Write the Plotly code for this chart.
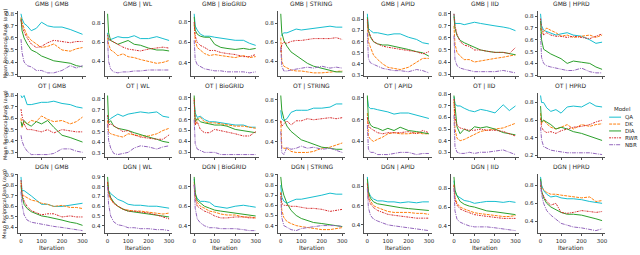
import plotly.graph_objects as go

# ---------------- data ----------------
ITER = [0, 5, 15, 30, 50, 75, 100, 130, 160, 200, 240, 270, 300]
MODELS = ["QA", "DK", "DIA", "RWR", "NBR"]
ROWS = ["GMB", "OT", "DGN"]
COLS = ["GMB", "WL", "BioGRID", "STRING", "APID", "IID", "HPRD"]

# y tick step of every panel, row by row
YSTEP_GMB = [0.1, 0.2, 0.2, 0.2, 0.1, 0.1, 0.1]
YSTEP_OT = [0.1, 0.1, 0.1, 0.2, 0.2, 0.1, 0.2]
YSTEP_DGN = [0.1, 0.1, 0.2, 0.1, 0.2, 0.2, 0.2]

GMB_GMB = dict(
    QA=[0.80, 0.76, 0.72, 0.70, 0.66, 0.68, 0.73, 0.70, 0.69, 0.69, 0.67, 0.65, 0.63],
    DK=[0.77, 0.73, 0.68, 0.62, 0.58, 0.55, 0.52, 0.53, 0.55, 0.50, 0.49, 0.51, 0.52],
    DIA=[0.76, 0.66, 0.60, 0.55, 0.50, 0.48, 0.45, 0.43, 0.41, 0.40, 0.39, 0.37, 0.36],
    RWR=[0.75, 0.70, 0.65, 0.60, 0.55, 0.52, 0.53, 0.56, 0.58, 0.57, 0.56, 0.57, 0.57],
    NBR=[0.59, 0.48, 0.40, 0.37, 0.36, 0.33, 0.33, 0.31, 0.31, 0.33, 0.37, 0.35, 0.37])
GMB_WL = dict(
    QA=[0.70, 0.62, 0.63, 0.64, 0.66, 0.65, 0.65, 0.67, 0.64, 0.64, 0.66, 0.64, 0.62],
    DK=[0.65, 0.58, 0.52, 0.50, 0.46, 0.48, 0.45, 0.44, 0.42, 0.40, 0.38, 0.39, 0.41],
    DIA=[0.90, 0.70, 0.62, 0.60, 0.58, 0.60, 0.62, 0.58, 0.57, 0.54, 0.52, 0.52, 0.51],
    RWR=[0.68, 0.64, 0.62, 0.60, 0.58, 0.55, 0.53, 0.52, 0.51, 0.53, 0.54, 0.55, 0.54],
    NBR=[0.62, 0.40, 0.32, 0.29, 0.28, 0.29, 0.29, 0.30, 0.30, 0.31, 0.31, 0.31, 0.31])
GMB_BIOGRID = dict(
    QA=[0.88, 0.76, 0.72, 0.68, 0.66, 0.66, 0.65, 0.64, 0.63, 0.62, 0.62, 0.59, 0.57],
    DK=[0.78, 0.62, 0.55, 0.52, 0.49, 0.47, 0.48, 0.47, 0.46, 0.45, 0.47, 0.45, 0.46],
    DIA=[0.85, 0.72, 0.68, 0.66, 0.65, 0.65, 0.58, 0.55, 0.54, 0.53, 0.54, 0.53, 0.54],
    RWR=[0.80, 0.66, 0.60, 0.57, 0.55, 0.52, 0.52, 0.50, 0.49, 0.48, 0.46, 0.46, 0.48],
    NBR=[0.62, 0.43, 0.38, 0.36, 0.34, 0.33, 0.32, 0.32, 0.31, 0.31, 0.31, 0.30, 0.31])
GMB_STRING = dict(
    QA=[0.67, 0.68, 0.70, 0.70, 0.72, 0.74, 0.73, 0.74, 0.75, 0.76, 0.77, 0.76, 0.76],
    DK=[0.65, 0.40, 0.35, 0.33, 0.31, 0.30, 0.30, 0.29, 0.28, 0.28, 0.29, 0.29, 0.30],
    DIA=[0.90, 0.70, 0.62, 0.56, 0.50, 0.46, 0.42, 0.38, 0.35, 0.33, 0.31, 0.29, 0.29],
    RWR=[0.50, 0.58, 0.60, 0.59, 0.61, 0.62, 0.62, 0.63, 0.64, 0.64, 0.64, 0.65, 0.63],
    NBR=[0.55, 0.35, 0.30, 0.30, 0.31, 0.32, 0.33, 0.34, 0.33, 0.35, 0.33, 0.34, 0.33])
GMB_APID = dict(
    QA=[0.85, 0.72, 0.70, 0.68, 0.68, 0.67, 0.66, 0.67, 0.67, 0.64, 0.62, 0.59, 0.58],
    DK=[0.78, 0.60, 0.55, 0.48, 0.44, 0.40, 0.37, 0.36, 0.35, 0.37, 0.42, 0.45, 0.45],
    DIA=[0.82, 0.70, 0.64, 0.60, 0.58, 0.57, 0.57, 0.56, 0.55, 0.53, 0.51, 0.50, 0.47],
    RWR=[0.80, 0.70, 0.65, 0.60, 0.58, 0.56, 0.55, 0.54, 0.53, 0.52, 0.51, 0.49, 0.51],
    NBR=[0.68, 0.45, 0.41, 0.40, 0.38, 0.36, 0.35, 0.34, 0.34, 0.33, 0.35, 0.34, 0.32])
GMB_IID = dict(
    QA=[0.80, 0.72, 0.72, 0.72, 0.71, 0.72, 0.73, 0.72, 0.71, 0.70, 0.69, 0.68, 0.66],
    DK=[0.70, 0.55, 0.48, 0.45, 0.42, 0.42, 0.40, 0.41, 0.42, 0.43, 0.44, 0.45, 0.46],
    DIA=[0.78, 0.68, 0.62, 0.58, 0.56, 0.54, 0.52, 0.50, 0.49, 0.48, 0.48, 0.47, 0.46],
    RWR=[0.80, 0.70, 0.63, 0.57, 0.54, 0.53, 0.50, 0.50, 0.49, 0.48, 0.48, 0.47, 0.52],
    NBR=[0.62, 0.42, 0.37, 0.35, 0.34, 0.33, 0.32, 0.32, 0.32, 0.32, 0.33, 0.32, 0.31])
GMB_HPRD = dict(
    QA=[0.82, 0.72, 0.68, 0.67, 0.66, 0.64, 0.65, 0.66, 0.64, 0.63, 0.60, 0.57, 0.58],
    DK=[0.70, 0.65, 0.67, 0.70, 0.68, 0.66, 0.63, 0.64, 0.62, 0.63, 0.64, 0.62, 0.64],
    DIA=[0.76, 0.60, 0.52, 0.50, 0.48, 0.46, 0.44, 0.40, 0.42, 0.41, 0.40, 0.37, 0.35],
    RWR=[0.78, 0.70, 0.64, 0.66, 0.64, 0.63, 0.63, 0.62, 0.63, 0.62, 0.61, 0.63, 0.65],
    NBR=[0.65, 0.45, 0.40, 0.38, 0.37, 0.36, 0.35, 0.34, 0.34, 0.36, 0.33, 0.32, 0.32])

OT_GMB = dict(
    QA=[0.80, 0.78, 0.80, 0.72, 0.72, 0.73, 0.74, 0.74, 0.75, 0.73, 0.72, 0.70, 0.69],
    DK=[0.60, 0.52, 0.57, 0.55, 0.58, 0.57, 0.62, 0.59, 0.57, 0.58, 0.55, 0.57, 0.61],
    DIA=[0.57, 0.53, 0.58, 0.55, 0.53, 0.57, 0.55, 0.58, 0.52, 0.45, 0.43, 0.41, 0.39],
    RWR=[0.68, 0.62, 0.55, 0.50, 0.50, 0.49, 0.48, 0.50, 0.47, 0.50, 0.49, 0.48, 0.48],
    NBR=[0.45, 0.40, 0.35, 0.31, 0.28, 0.28, 0.28, 0.28, 0.29, 0.33, 0.33, 0.31, 0.30])
OT_WL = dict(
    QA=[0.65, 0.60, 0.62, 0.64, 0.66, 0.64, 0.66, 0.67, 0.68, 0.67, 0.68, 0.64, 0.63],
    DK=[0.60, 0.50, 0.48, 0.47, 0.46, 0.45, 0.48, 0.47, 0.46, 0.46, 0.48, 0.51, 0.53],
    DIA=[0.83, 0.58, 0.60, 0.55, 0.53, 0.52, 0.51, 0.49, 0.47, 0.45, 0.43, 0.41, 0.40],
    RWR=[0.65, 0.56, 0.57, 0.55, 0.53, 0.50, 0.51, 0.47, 0.45, 0.44, 0.43, 0.43, 0.47],
    NBR=[0.57, 0.42, 0.35, 0.30, 0.29, 0.30, 0.31, 0.35, 0.37, 0.36, 0.34, 0.36, 0.37])
OT_BIOGRID = dict(
    QA=[0.76, 0.66, 0.62, 0.63, 0.60, 0.58, 0.58, 0.57, 0.56, 0.55, 0.55, 0.53, 0.53],
    DK=[0.80, 0.55, 0.60, 0.62, 0.58, 0.57, 0.57, 0.56, 0.55, 0.54, 0.54, 0.53, 0.52],
    DIA=[0.82, 0.58, 0.61, 0.58, 0.57, 0.56, 0.55, 0.55, 0.54, 0.51, 0.50, 0.49, 0.48],
    RWR=[0.78, 0.55, 0.58, 0.51, 0.48, 0.48, 0.51, 0.50, 0.49, 0.47, 0.45, 0.45, 0.49],
    NBR=[0.60, 0.38, 0.33, 0.32, 0.30, 0.30, 0.30, 0.28, 0.28, 0.28, 0.28, 0.28, 0.28])
OT_STRING = dict(
    QA=[0.70, 0.62, 0.60, 0.62, 0.68, 0.70, 0.70, 0.70, 0.72, 0.72, 0.73, 0.76, 0.76],
    DK=[0.60, 0.35, 0.34, 0.34, 0.31, 0.30, 0.30, 0.30, 0.31, 0.34, 0.35, 0.37, 0.39],
    DIA=[0.84, 0.70, 0.62, 0.55, 0.50, 0.46, 0.42, 0.40, 0.38, 0.35, 0.34, 0.33, 0.33],
    RWR=[0.60, 0.55, 0.57, 0.60, 0.56, 0.60, 0.60, 0.62, 0.61, 0.62, 0.63, 0.62, 0.63],
    NBR=[0.50, 0.30, 0.28, 0.35, 0.33, 0.34, 0.36, 0.34, 0.35, 0.33, 0.34, 0.32, 0.30])
OT_APID = dict(
    QA=[0.80, 0.72, 0.70, 0.70, 0.69, 0.68, 0.67, 0.65, 0.66, 0.66, 0.64, 0.62, 0.61],
    DK=[0.66, 0.45, 0.42, 0.40, 0.42, 0.44, 0.47, 0.48, 0.47, 0.47, 0.48, 0.47, 0.47],
    DIA=[0.82, 0.60, 0.55, 0.53, 0.52, 0.50, 0.52, 0.50, 0.53, 0.50, 0.49, 0.48, 0.47],
    RWR=[0.62, 0.55, 0.52, 0.50, 0.48, 0.47, 0.48, 0.48, 0.48, 0.49, 0.47, 0.50, 0.48],
    NBR=[0.55, 0.33, 0.30, 0.30, 0.28, 0.28, 0.28, 0.29, 0.30, 0.30, 0.28, 0.29, 0.29])
OT_IID = dict(
    QA=[0.78, 0.72, 0.70, 0.70, 0.68, 0.66, 0.65, 0.67, 0.66, 0.64, 0.71, 0.66, 0.70],
    DK=[0.74, 0.50, 0.42, 0.40, 0.41, 0.43, 0.45, 0.48, 0.49, 0.50, 0.51, 0.53, 0.55],
    DIA=[0.79, 0.68, 0.52, 0.46, 0.50, 0.48, 0.52, 0.51, 0.52, 0.50, 0.47, 0.46, 0.45],
    RWR=[0.76, 0.60, 0.53, 0.51, 0.50, 0.49, 0.49, 0.50, 0.49, 0.49, 0.48, 0.46, 0.44],
    NBR=[0.62, 0.35, 0.30, 0.29, 0.29, 0.30, 0.29, 0.30, 0.30, 0.31, 0.32, 0.30, 0.28])
OT_HPRD = dict(
    QA=[0.88, 0.80, 0.80, 0.74, 0.70, 0.72, 0.68, 0.75, 0.76, 0.75, 0.80, 0.76, 0.75],
    DK=[0.68, 0.56, 0.60, 0.56, 0.52, 0.50, 0.52, 0.55, 0.50, 0.55, 0.53, 0.55, 0.56],
    DIA=[0.76, 0.58, 0.60, 0.58, 0.55, 0.50, 0.52, 0.50, 0.47, 0.45, 0.42, 0.40, 0.37],
    RWR=[0.62, 0.52, 0.48, 0.46, 0.47, 0.45, 0.48, 0.50, 0.52, 0.53, 0.55, 0.58, 0.60],
    NBR=[0.52, 0.38, 0.30, 0.28, 0.26, 0.25, 0.24, 0.23, 0.23, 0.23, 0.23, 0.22, 0.21])

DGN_GMB = dict(
    QA=[0.88, 0.75, 0.75, 0.73, 0.70, 0.66, 0.62, 0.62, 0.60, 0.60, 0.61, 0.62, 0.63],
    DK=[0.83, 0.72, 0.70, 0.68, 0.66, 0.65, 0.63, 0.62, 0.60, 0.61, 0.59, 0.59, 0.58],
    DIA=[0.80, 0.70, 0.62, 0.58, 0.55, 0.53, 0.51, 0.50, 0.49, 0.47, 0.45, 0.44, 0.42],
    RWR=[0.85, 0.72, 0.65, 0.60, 0.56, 0.54, 0.52, 0.53, 0.53, 0.50, 0.51, 0.50, 0.50],
    NBR=[0.74, 0.62, 0.52, 0.47, 0.45, 0.44, 0.43, 0.42, 0.41, 0.40, 0.39, 0.38, 0.37])
DGN_WL = dict(
    QA=[0.82, 0.76, 0.73, 0.70, 0.67, 0.65, 0.62, 0.61, 0.61, 0.60, 0.60, 0.59, 0.58],
    DK=[0.84, 0.72, 0.67, 0.63, 0.60, 0.57, 0.56, 0.55, 0.55, 0.54, 0.53, 0.52, 0.53],
    DIA=[0.90, 0.76, 0.69, 0.64, 0.60, 0.57, 0.55, 0.54, 0.53, 0.52, 0.51, 0.50, 0.49],
    RWR=[0.85, 0.74, 0.68, 0.63, 0.60, 0.57, 0.55, 0.55, 0.54, 0.53, 0.51, 0.49, 0.47],
    NBR=[0.80, 0.62, 0.50, 0.44, 0.41, 0.40, 0.38, 0.38, 0.37, 0.37, 0.36, 0.36, 0.35])
DGN_BIOGRID = dict(
    QA=[0.88, 0.72, 0.68, 0.65, 0.65, 0.64, 0.60, 0.59, 0.58, 0.60, 0.61, 0.60, 0.59],
    DK=[0.85, 0.70, 0.64, 0.60, 0.58, 0.55, 0.54, 0.52, 0.51, 0.51, 0.49, 0.49, 0.48],
    DIA=[0.90, 0.74, 0.66, 0.63, 0.60, 0.58, 0.56, 0.55, 0.54, 0.53, 0.52, 0.51, 0.50],
    RWR=[0.82, 0.68, 0.60, 0.58, 0.55, 0.53, 0.50, 0.48, 0.48, 0.49, 0.49, 0.48, 0.48],
    NBR=[0.82, 0.58, 0.47, 0.43, 0.40, 0.38, 0.38, 0.37, 0.37, 0.37, 0.36, 0.35, 0.35])
DGN_STRING = dict(
    QA=[0.80, 0.68, 0.64, 0.62, 0.64, 0.66, 0.66, 0.67, 0.68, 0.70, 0.72, 0.71, 0.71],
    DK=[0.73, 0.55, 0.48, 0.44, 0.42, 0.40, 0.39, 0.38, 0.37, 0.36, 0.36, 0.37, 0.38],
    DIA=[0.88, 0.78, 0.70, 0.62, 0.55, 0.50, 0.47, 0.45, 0.43, 0.42, 0.41, 0.40, 0.39],
    RWR=[0.72, 0.62, 0.60, 0.60, 0.59, 0.59, 0.58, 0.57, 0.57, 0.56, 0.54, 0.55, 0.56],
    NBR=[0.68, 0.48, 0.40, 0.38, 0.36, 0.35, 0.37, 0.38, 0.39, 0.40, 0.40, 0.40, 0.39])
DGN_APID = dict(
    QA=[0.90, 0.75, 0.70, 0.67, 0.65, 0.65, 0.64, 0.64, 0.63, 0.64, 0.63, 0.64, 0.64],
    DK=[0.84, 0.70, 0.65, 0.60, 0.58, 0.56, 0.54, 0.53, 0.53, 0.53, 0.52, 0.52, 0.51],
    DIA=[0.88, 0.74, 0.68, 0.64, 0.62, 0.61, 0.60, 0.59, 0.58, 0.57, 0.56, 0.55, 0.55],
    RWR=[0.83, 0.68, 0.62, 0.58, 0.55, 0.53, 0.51, 0.50, 0.49, 0.48, 0.47, 0.47, 0.47],
    NBR=[0.78, 0.58, 0.50, 0.46, 0.44, 0.42, 0.40, 0.39, 0.38, 0.37, 0.36, 0.35, 0.34])
DGN_IID = dict(
    QA=[0.88, 0.76, 0.72, 0.70, 0.67, 0.66, 0.64, 0.65, 0.66, 0.66, 0.65, 0.66, 0.65],
    DK=[0.84, 0.70, 0.64, 0.60, 0.58, 0.56, 0.54, 0.53, 0.52, 0.51, 0.50, 0.50, 0.51],
    DIA=[0.92, 0.78, 0.72, 0.66, 0.63, 0.61, 0.60, 0.58, 0.56, 0.55, 0.54, 0.53, 0.52],
    RWR=[0.83, 0.68, 0.62, 0.58, 0.56, 0.54, 0.52, 0.51, 0.50, 0.49, 0.48, 0.48, 0.48],
    NBR=[0.80, 0.56, 0.47, 0.44, 0.42, 0.40, 0.39, 0.39, 0.39, 0.38, 0.37, 0.36, 0.35])
DGN_HPRD = dict(
    QA=[0.89, 0.80, 0.74, 0.70, 0.67, 0.68, 0.66, 0.65, 0.65, 0.64, 0.62, 0.61, 0.60],
    DK=[0.85, 0.78, 0.75, 0.72, 0.70, 0.70, 0.69, 0.68, 0.67, 0.66, 0.67, 0.62, 0.63],
    DIA=[0.87, 0.74, 0.66, 0.60, 0.56, 0.53, 0.50, 0.48, 0.48, 0.47, 0.45, 0.43, 0.41],
    RWR=[0.80, 0.72, 0.68, 0.62, 0.58, 0.60, 0.50, 0.49, 0.50, 0.52, 0.51, 0.50, 0.51],
    NBR=[0.84, 0.70, 0.60, 0.52, 0.47, 0.42, 0.38, 0.36, 0.34, 0.33, 0.31, 0.30, 0.32])

PANELS = [
    [GMB_GMB, GMB_WL, GMB_BIOGRID, GMB_STRING, GMB_APID, GMB_IID, GMB_HPRD],
    [OT_GMB, OT_WL, OT_BIOGRID, OT_STRING, OT_APID, OT_IID, OT_HPRD],
    [DGN_GMB, DGN_WL, DGN_BIOGRID, DGN_STRING, DGN_APID, DGN_IID, DGN_HPRD],
]
YSTEPS = [YSTEP_GMB, YSTEP_OT, YSTEP_DGN]

# ---------------- style ----------------
W, H = 640, 255
COLORS = {"QA": "#17becf", "DK": "#ff7f0e", "DIA": "#2ca02c", "RWR": "#d62728", "NBR": "#9467bd"}
DASHES = {"QA": "solid", "DK": "3px,1px", "DIA": "solid",
          "RWR": "2px,1px,1px,1px", "NBR": "4px,1px,1px,1px"}
INK = "#262626"
FONT = "DejaVu Sans"
TICK_FS = 5.5

COL_X0 = 18
COL_STEP = 87
COL_W = 68
ROW_TOP = [9, 92, 175]
ROW_BOT = [75, 158, 235]


def px_x(p):
    return p / W


def px_y(p):
    return 1 - p / H


fig = go.Figure()
layout = dict(
    width=W, height=H, margin=dict(l=0, r=0, t=0, b=0, pad=0),
    paper_bgcolor="white", plot_bgcolor="white", showlegend=False,
    font=dict(family=FONT, size=6, color=INK), hovermode=False,
)
annotations = []
shapes = []

for r, rname in enumerate(ROWS):
    for c, cname in enumerate(COLS):
        n = r * len(COLS) + c + 1
        sfx = "" if n == 1 else str(n)
        panel = PANELS[r][c]
        for m in MODELS:
            fig.add_trace(go.Scatter(
                x=ITER, y=panel[m], mode="lines", name=m,
                line=dict(color=COLORS[m], width=1, dash=DASHES[m]),
                xaxis="x" + sfx, yaxis="y" + sfx, showlegend=False,
            ))
        allv = [v for m in MODELS for v in panel[m]]
        lo, hi = min(allv), max(allv)
        pad = 0.05 * (hi - lo)
        x0 = COL_X0 + COL_STEP * c
        layout["xaxis" + sfx] = dict(
            domain=[px_x(x0), px_x(x0 + COL_W)], anchor="y" + sfx,
            range=[-15, 315], tickvals=[0, 100, 200, 300],
            showticklabels=(r == len(ROWS) - 1),
            ticks="outside", ticklen=2, tickwidth=0.8, tickcolor=INK,
            showline=True, linecolor=INK, linewidth=0.8,
            showgrid=False, zeroline=False,
            tickfont=dict(size=TICK_FS, family=FONT, color=INK),
        )
        layout["yaxis" + sfx] = dict(
            domain=[px_y(ROW_BOT[r]), px_y(ROW_TOP[r])], anchor="x" + sfx,
            range=[lo - pad, hi + pad], dtick=YSTEPS[r][c], tick0=0,
            tickformat=".1f",
            ticks="outside", ticklen=2, tickwidth=0.8, tickcolor=INK,
            showline=True, linecolor=INK, linewidth=0.8,
            showgrid=False, zeroline=False,
            tickfont=dict(size=TICK_FS, family=FONT, color=INK),
        )
        annotations.append(dict(
            text=f"{rname} | {cname}", xref="paper", yref="paper",
            x=px_x(x0 + COL_W / 2), y=px_y(ROW_TOP[r] - 1),
            xanchor="center", yanchor="bottom", showarrow=False,
            font=dict(size=6, family=FONT, color=INK),
        ))
        if r == len(ROWS) - 1:
            annotations.append(dict(
                text="Iteration", xref="paper", yref="paper",
                x=px_x(x0 + COL_W / 2), y=px_y(255.5), xanchor="center", yanchor="bottom",
                showarrow=False, font=dict(size=6, family=FONT, color=INK)))
    annotations.append(dict(
        text="Mean Reciprocal Rank (avg)", xref="paper", yref="paper",
        x=px_x(-0.5), y=px_y((ROW_TOP[r] + ROW_BOT[r]) / 2), textangle=-90,
        xanchor="left", yanchor="middle", showarrow=False,
        font=dict(size=5, family=FONT, color=INK),
    ))

# legend drawn by hand (compact, matplotlib-like)
LEG_X = 612
LEG_Y0 = 117
LEG_DY = 7
annotations.append(dict(
    text="Model", xref="paper", yref="paper", x=px_x(625), y=px_y(109),
    xanchor="center", yanchor="middle", showarrow=False,
    font=dict(size=5.5, family=FONT, color=INK)))
for i, m in enumerate(MODELS):
    yy = LEG_Y0 + LEG_DY * i
    shapes.append(dict(type="line", xref="paper", yref="paper",
                       x0=px_x(LEG_X), x1=px_x(LEG_X + 12), y0=px_y(yy), y1=px_y(yy),
                       line=dict(color=COLORS[m], width=1, dash=DASHES[m])))
    annotations.append(dict(
        text=m, xref="paper", yref="paper", x=px_x(LEG_X + 14), y=px_y(yy),
        xanchor="left", yanchor="middle", showarrow=False,
        font=dict(size=5.5, family=FONT, color=INK)))

layout["annotations"] = annotations
layout["shapes"] = shapes
fig.update_layout(**layout)
fig.write_html("out.html", config={"displayModeBar": False, "staticPlot": True},
               post_script="document.body.style.margin='0';document.body.style.overflow='hidden';")
